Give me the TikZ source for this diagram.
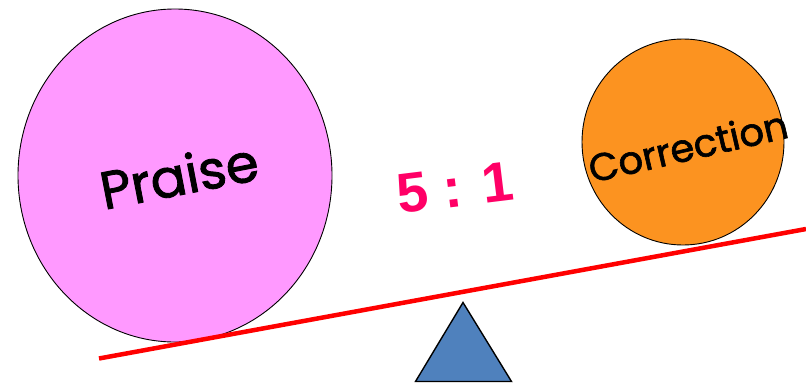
\documentclass[tikz,border=0pt]{standalone}
\usepackage{fontspec}
\setmainfont{Poppins}
\newfontfamily\comicfont[FakeBold=1.6]{Poppins}
\newfontfamily\ratiofont{Liberation Sans}
\definecolor{praisepink}{HTML}{FF99FF}
\definecolor{corrorange}{HTML}{FC9320}
\definecolor{ratiored}{HTML}{FF0066}
\definecolor{fulcblue}{HTML}{4F81BD}
\begin{document}
\begin{tikzpicture}[x=1pt,y=-1pt,
  ball/.style={draw=black,line width=0.9pt},
  word/.style={text=black,inner sep=0pt}]
\useasboundingbox (0,0) rectangle (806,383);
\draw[ball,fill=praisepink] (175,175.5) ellipse [x radius=157,y radius=166.5];
\draw[ball,fill=corrorange] (683,142) ellipse [x radius=101,y radius=103];
\coordinate (beamL) at (99,358.5);
\coordinate (beamR) at (806,229);
\draw[red,line width=4.5pt] (beamL) -- (beamR);
\coordinate (apex) at (463,302.5);
\coordinate (baseL) at (415.5,381.5);
\coordinate (baseR) at (511.5,381.5);
\draw[fill=fulcblue,line width=1.4pt,line join=miter] (apex) -- (baseR) -- (baseL) -- cycle;
\node[word,rotate=11,font=\comicfont\fontsize{53}{53}\selectfont] (praise) at (179,175) {Praise};
\node[word,rotate=13,font=\comicfont\fontsize{38.5}{38.5}\selectfont] (corr) at (688,146) {Correction};
\node[inner sep=0pt,rotate=7,text=ratiored,font=\ratiofont\bfseries\fontsize{56}{56}\selectfont] (ratio) at (455,188) {5 : 1};
\end{tikzpicture}
\end{document}
